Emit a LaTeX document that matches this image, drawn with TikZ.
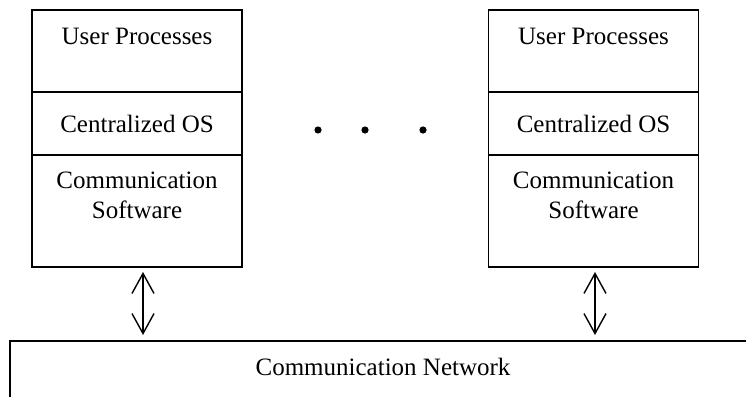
\documentclass[tikz,border=0pt]{standalone}
\usepackage{fontspec}
\setmainfont{Liberation Serif}
\usetikzlibrary{arrows.meta}
\begin{document}
\begin{tikzpicture}[x=1pt,y=-1pt,
  layer/.style={draw,line width=1.6pt,rectangle,inner sep=0pt,minimum width=210pt},
  txt/.style={font=\fontsize{25}{30}\selectfont,inner sep=0pt,anchor=base,align=center},
  link/.style={line width=1.4pt,{Straight Barb[length=20pt,width=22pt,line width=1.4pt]}-{Straight Barb[length=20pt,width=22pt,line width=1.4pt]}},
  dot/.style={fill=black}]
\useasboundingbox (0,0) rectangle (746,396);
\clip (0,0) rectangle (746,396);
% network
\node[draw,line width=1.6pt,inner sep=0pt,minimum width=746pt,minimum height=70pt] (net) at (383,376) {};
\node[txt] (nettxt) at (383,375) {Communication Network};
% left stack
\node[layer,minimum height=82pt] (up1) at (137,51) {};
\node[layer,minimum height=63pt] (os1) at (137,123.5) {};
\node[layer,minimum height=112pt] (cs1) at (137,211) {};
\node[txt] (up1t) at (137,45) {User Processes};
\node[txt] (os1t) at (137,132) {Centralized OS};
\node[txt] (cs1t) at (137,218) {Communication\\Software};
% right stack
\node[layer,minimum height=82pt] (up2) at (593.5,51) {};
\node[layer,minimum height=63pt] (os2) at (593.5,123.5) {};
\node[layer,minimum height=112pt] (cs2) at (593.5,211) {};
\node[txt] (up2t) at (593.5,45) {User Processes};
\node[txt] (os2t) at (593.5,132) {Centralized OS};
\node[txt] (cs2t) at (593.5,218) {Communication\\Software};
% arrows
\coordinate (a1) at (143,267);
\coordinate (b1) at (143,341);
\coordinate (a2) at (595,267);
\coordinate (b2) at (595,341);
\draw[link,shorten <=5pt,shorten >=6pt] (a1) -- (b1);
\draw[link,shorten <=5pt,shorten >=6pt] (a2) -- (b2);
% dots
\fill[dot] (318,130) circle (3.6);
\fill[dot] (365,130) circle (3.6);
\fill[dot] (423,130) circle (3.6);
\end{tikzpicture}
\end{document}
